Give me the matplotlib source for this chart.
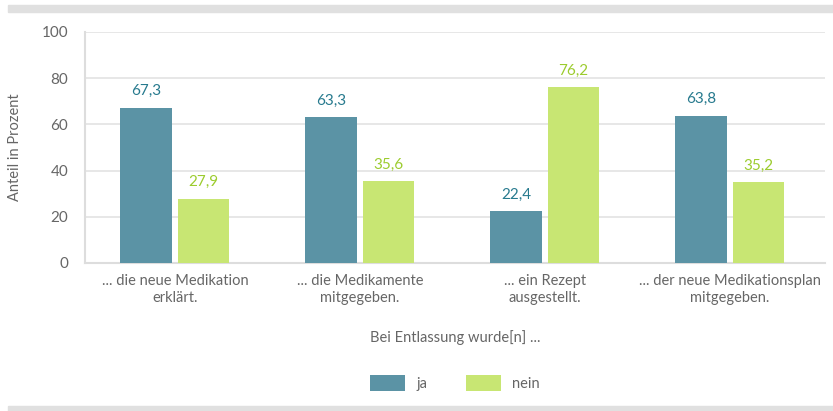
import matplotlib.pyplot as plt
import numpy as np
from matplotlib.patches import Rectangle

categories = ["... die neue Medikation\nerklärt.", "... die Medikamente\nmitgegeben.",
              "... ein Rezept\nausgestellt.", "... der neue Medikationsplan\nmitgegeben."]
ja = [67.3, 63.3, 22.4, 63.8]
nein = [27.9, 35.6, 76.2, 35.2]

C_JA = "#5b93a5"
C_NEIN = "#c8e673"
C_JA_TXT = "#277a8e"
C_NEIN_TXT = "#9ccc2e"
C_TXT = "#666666"
C_GRID = "#e3e3e3"

plt.rcParams["font.family"] = ["Lato", "DejaVu Sans"]

fig = plt.figure(figsize=(8.33, 4.11), dpi=100)
ax = fig.add_axes([85 / 833, 1 - 263 / 411, 740 / 833, 231 / 411])

x = np.arange(len(categories))
w = 0.28
off = 0.155
b1 = ax.bar(x - off, ja, w, color=C_JA, label="ja", zorder=3)
b2 = ax.bar(x + off, nein, w, color=C_NEIN, label="nein", zorder=3)
for rect, v in zip(b1, ja):
    ax.text(rect.get_x() + rect.get_width() / 2, v + 4, f"{v:.1f}".replace(".", ","),
            ha="center", va="bottom", color=C_JA_TXT, fontsize=11)
for rect, v in zip(b2, nein):
    ax.text(rect.get_x() + rect.get_width() / 2, v + 4, f"{v:.1f}".replace(".", ","),
            ha="center", va="bottom", color=C_NEIN_TXT, fontsize=11)

ax.set_xlim(-0.486, 3.514)
ax.set_ylim(0, 100)
ax.set_yticks([0, 20, 40, 60, 80, 100])
ax.yaxis.grid(True, color=C_GRID, lw=1.2, zorder=0)
ax.set_axisbelow(True)
ax.set_xticks(x)
ax.set_xticklabels(categories, color=C_TXT, fontsize=10.5, linespacing=1.3)
ax.tick_params(axis="y", colors=C_TXT, labelsize=11, length=0, pad=12)
ax.tick_params(axis="x", length=0, pad=8)
for s in ["top", "right"]:
    ax.spines[s].set_visible(False)
for s in ["left", "bottom"]:
    ax.spines[s].set_color("#dddddd")
    ax.spines[s].set_linewidth(1.5)
ax.set_ylabel("Anteil in Prozent", color=C_TXT, fontsize=10.5, labelpad=14)
ax.set_xlabel("Bei Entlassung wurde[n] ...", color=C_TXT, fontsize=10.5, labelpad=18)

ax.legend(loc="center", bbox_to_anchor=(0.5, (1 - 383 / 411 - (1 - 263 / 411)) / (231 / 411)),
          bbox_transform=ax.transAxes, ncol=2, frameon=False, fontsize=10.5,
          handlelength=2.4, handleheight=1.4, columnspacing=2.6, handletextpad=0.8,
          labelcolor=C_TXT)

fig.patches.append(Rectangle((8 / 833, 1 - 12 / 411), 1, 7 / 411,
                             transform=fig.transFigure, color="#e0e0e0", zorder=0))
fig.patches.append(Rectangle((8 / 833, 0), 1, 5 / 411,
                             transform=fig.transFigure, color="#e0e0e0", zorder=0))

fig.savefig("out.png", dpi=100)
